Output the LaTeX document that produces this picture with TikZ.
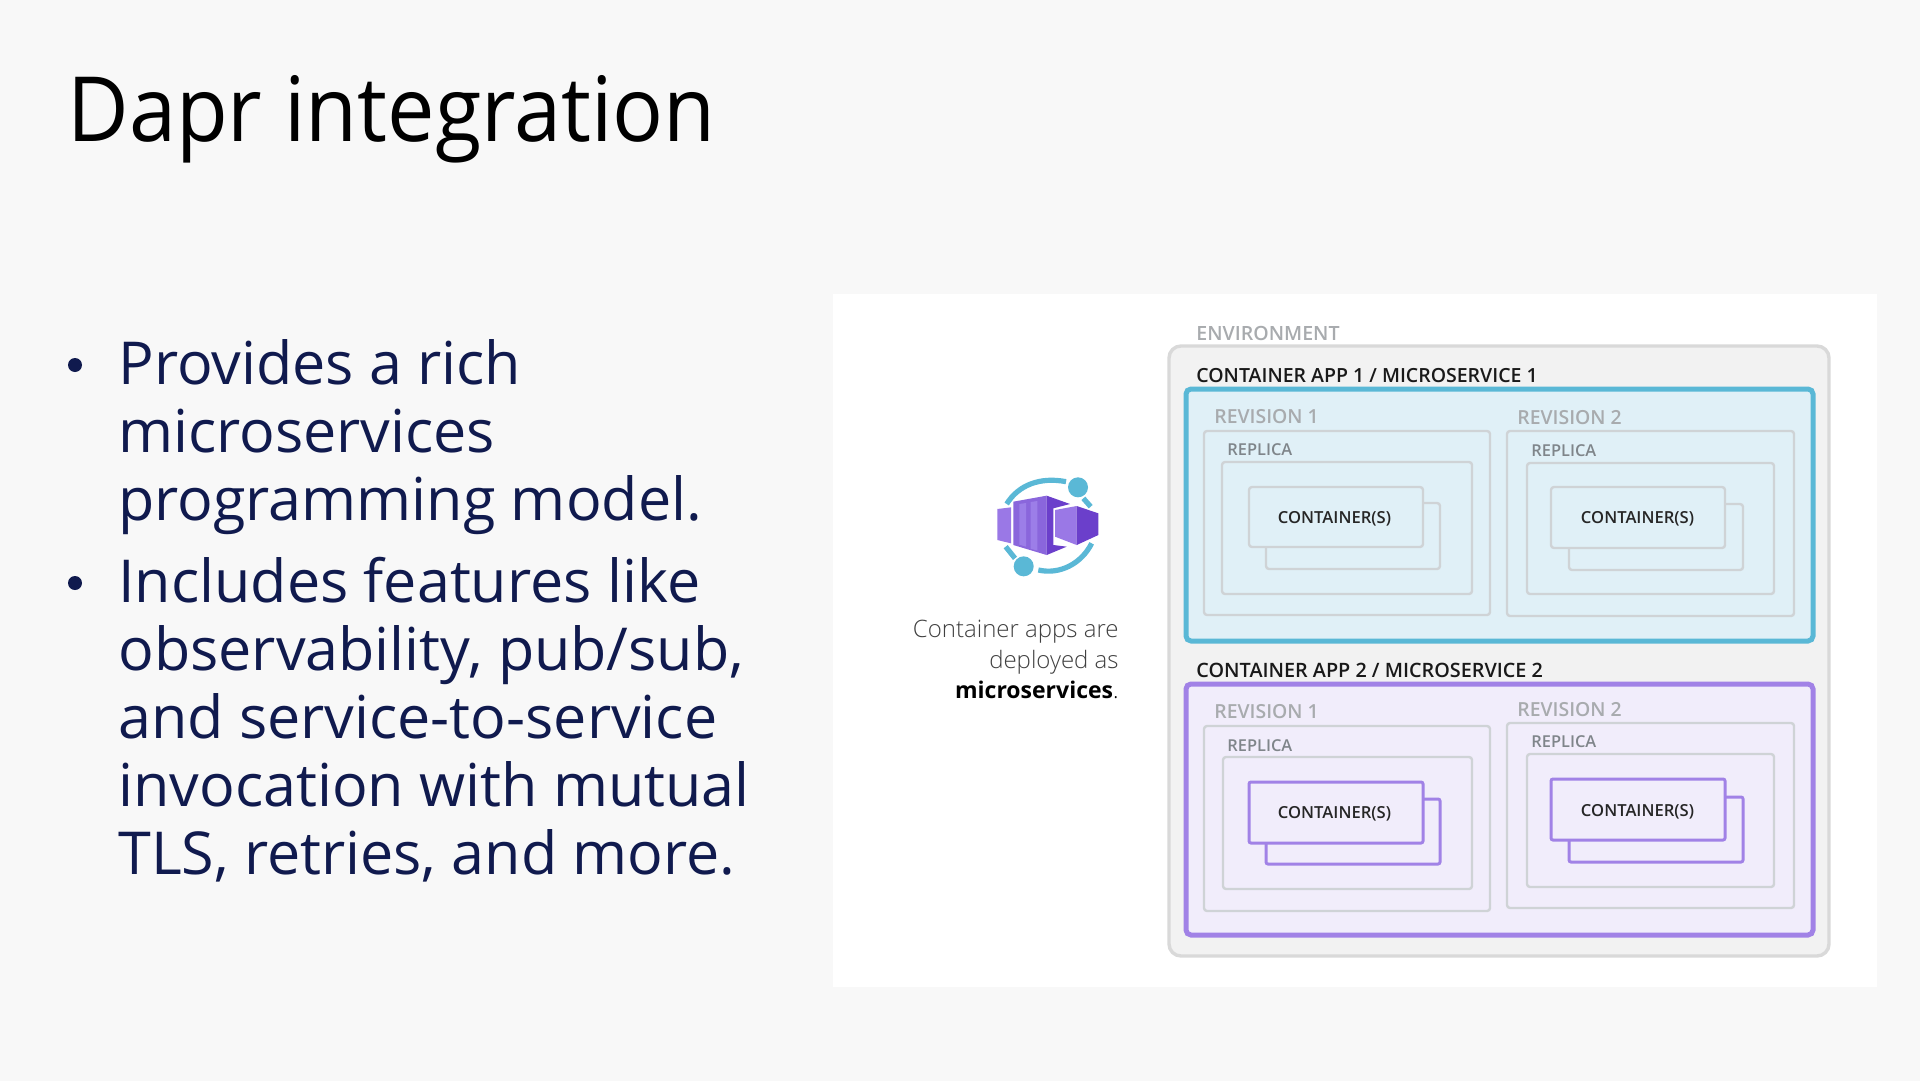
\documentclass[tikz,border=0pt]{standalone}
\usepackage{fontspec}
\setmainfont{Open Sans}
\newfontfamily\lightfont{Open Sans Light}
\newfontfamily\semifont{Open Sans Semibold}
\newfontfamily\narrowfont[FakeStretch=0.94]{Open Sans}
\definecolor{slidebg}{HTML}{F8F8F8}
\definecolor{navytext}{HTML}{101A4E}
\definecolor{envline}{HTML}{D9D9D9}
\definecolor{envfill}{HTML}{F2F2F2}
\definecolor{cyanline}{HTML}{5AB8D6}
\definecolor{cyanfill}{HTML}{E0F0F7}
\definecolor{purpleline}{HTML}{A182E6}
\definecolor{purplefill}{HTML}{F1EDFB}
\definecolor{greyline}{HTML}{CFD3D6}
\definecolor{greytext}{HTML}{A8ABAE}
\definecolor{replicatext}{HTML}{7F858A}
\definecolor{iconlight}{HTML}{9A78E6}
\definecolor{iconmid}{HTML}{8A66DC}
\definecolor{iconstripe}{HTML}{9C7EE8}
\definecolor{icondark}{HTML}{6B3FCB}
\tikzset{
	envbox/.style={draw=envline,fill=envfill,line width=1.7pt,rounded corners=6pt},
	cyanapp/.style={draw=cyanline,fill=cyanfill,line width=2.5pt,rounded corners=2.5pt},
	purpleapp/.style={draw=purpleline,fill=purplefill,line width=2.5pt,rounded corners=2.5pt},
	greybox/.style={draw=greyline,line width=1.2pt,rounded corners=1.5pt},
	purplebox/.style={draw=purpleline,line width=1.5pt,rounded corners=1pt},
	txt/.style={inner sep=0pt,anchor=base west},
	envlabel/.style={txt,text=greytext,font=\semifont\fontsize{9.8}{12}\selectfont},
	applabel/.style={txt,text=black!90,font=\semifont\fontsize{9.75}{12}\selectfont},
	revlabel/.style={txt,text=greytext,font=\semifont\fontsize{9.7}{12}\selectfont},
	replabel/.style={txt,text=replicatext,font=\semifont\fontsize{8.2}{10}\selectfont},
	boxlabel/.style={inner sep=0pt,anchor=base,text=black!85,font=\semifont\fontsize{8.3}{10}\selectfont},
	bullettext/.style={inner sep=0pt,anchor=north west,align=left,text=navytext,font=\fontsize{29.6}{34}\selectfont},
	dot/.style={circle,fill=navytext,inner sep=0pt,minimum size=7}
}
\begin{document}
\begin{tikzpicture}[x=0.5pt,y=-0.5pt]
	\path[fill=slidebg,use as bounding box] (0,0) rectangle (1920,1081);
	\fill[white] (833,294) rectangle (1877,987);
	% slide text
	\node[txt,font=\narrowfont\fontsize{45}{54}\selectfont] (title) at (67,141) {Dapr integration};
	\node[dot] (dota) at (75,365) {};
	\node[bullettext] (texta) at (118,339) {Provides a rich\\microservices\\programming model.};
	\node[dot] (dotb) at (75,583) {};
	\node[bullettext] (textb) at (118,557) {Includes features like\\observability, pub/sub,\\and service-to-service\\invocation with mutual\\TLS, retries, and more.};
	% icon
	\begin{scope}[shift={(940,430)},x=0.16667pt,y=-0.16667pt]
		\draw[cyanline,line width=2.6pt] (200,222) .. controls (235,165) and (300,140) .. (378,155);
		\draw[cyanline,line width=2.6pt] (295,420) .. controls (360,435) and (425,400) .. (455,340);
		\draw[cyanline,line width=2.6pt] (430,205) -- (452,230);
		\draw[cyanline,line width=2.6pt] (197,350) -- (225,385);
		\fill[cyanline] (414,172) circle (30);
		\fill[cyanline] (251,409) circle (30);
		\fill[iconlight] (172,237) -- (213,232) -- (213,340) -- (172,330) -- cycle;
		\fill[iconmid] (220,215) -- (320,197) -- (320,375) -- (220,345) -- cycle;
		\fill[iconstripe] (238,222) -- (258,219) -- (258,350) -- (238,344) -- cycle;
		\fill[iconstripe] (272,216) -- (292,213) -- (292,362) -- (272,356) -- cycle;
		\fill[icondark] (320,197) -- (390,222) -- (340,235) -- (340,345) -- (380,350) -- (320,375) -- cycle;
		\fill[iconlight] (345,240) -- (410,228) -- (410,345) -- (345,320) -- cycle;
		\fill[icondark] (410,228) -- (475,250) -- (475,315) -- (410,345) -- cycle;
	\end{scope}
	% caption
	\node[inner sep=0pt,anchor=base east,font=\lightfont\fontsize{12}{14}\selectfont,text=black!75] (capa) at (1119,637) {Container apps are};
	\node[inner sep=0pt,anchor=base east,font=\lightfont\fontsize{12}{14}\selectfont,text=black!75] (capb) at (1119,668) {deployed as};
	\node[inner sep=0pt,anchor=base east,font=\fontsize{11.5}{14}\selectfont] (capc) at (1119,698) {\textbf{microservices}{\lightfont .}};
	% environment
	\node[envlabel] (env) at (1196,340) {ENVIRONMENT};
	\draw[envbox] (1169,346) rectangle (1829,956);
	% first app
	\node[applabel] (appa) at (1196,382) {CONTAINER APP 1 / MICROSERVICE 1};
	\draw[cyanapp] (1186,389) rectangle (1813,641);
	\node[revlabel] (reva) at (1214,423) {REVISION 1};
	\node[revlabel] (revb) at (1517,424) {REVISION 2};
	\draw[greybox] (1204,431) rectangle (1490,615);
	\draw[greybox] (1507,431) rectangle (1794,616);
	\node[replabel] (repa) at (1227,455) {REPLICA};
	\node[replabel] (repb) at (1531,456) {REPLICA};
	\draw[greybox] (1222,462) rectangle (1472,594);
	\draw[greybox] (1527,463) rectangle (1774,594);
	\draw[greybox] (1266,503) rectangle (1440,569);
	\draw[greybox,fill=cyanfill] (1249,487) rectangle (1423,547);
	\draw[greybox] (1569,504) rectangle (1743,570);
	\draw[greybox,fill=cyanfill] (1551,487) rectangle (1725,548);
	\node[boxlabel] (cona) at (1334.5,523) {CONTAINER(S)};
	\node[boxlabel] (conb) at (1637.5,523) {CONTAINER(S)};
	% second app
	\node[applabel,font=\semifont\fontsize{9.9}{12}\selectfont] (appb) at (1196,677) {CONTAINER APP 2 / MICROSERVICE 2};
	\draw[purpleapp] (1186,684) rectangle (1813,935);
	\node[revlabel] (revc) at (1214,718) {REVISION 1};
	\node[revlabel] (revd) at (1517,716) {REVISION 2};
	\draw[greybox] (1204,726) rectangle (1490,911);
	\draw[greybox] (1507,723) rectangle (1794,908);
	\node[replabel] (repc) at (1227,751) {REPLICA};
	\node[replabel] (repd) at (1531,747) {REPLICA};
	\draw[greybox] (1223,757) rectangle (1472,889);
	\draw[greybox] (1527,754) rectangle (1774,887);
	\draw[purplebox] (1266,799) rectangle (1440,864);
	\draw[purplebox,fill=purplefill] (1249,782) rectangle (1423,843);
	\draw[purplebox] (1569,797) rectangle (1743,862);
	\draw[purplebox,fill=purplefill] (1551,779) rectangle (1725,840);
	\node[boxlabel] (conc) at (1334.5,818) {CONTAINER(S)};
	\node[boxlabel] (cond) at (1637.5,816) {CONTAINER(S)};
\end{tikzpicture}
\end{document}
